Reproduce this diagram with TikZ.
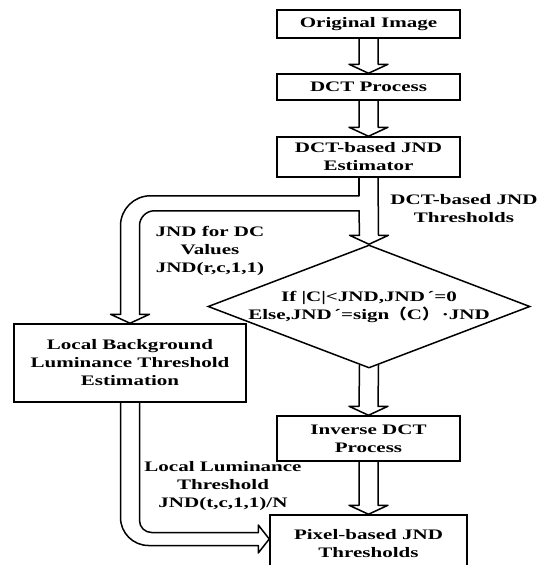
\documentclass[tikz,border=0pt]{standalone}
\usepackage{fontspec}
\setmainfont{Liberation Serif}[FakeStretch=1.45]
\newfontfamily\cjkfont{Noto Sans CJK SC}[FakeStretch=1.2]
\usetikzlibrary{shapes.geometric,calc}
\begin{document}
\begin{tikzpicture}[x=1pt,y=-1pt,
  box/.style={draw,line width=1.5pt,fill=white,inner sep=0pt,align=center,font=\bfseries\fontsize{14.5}{18}\selectfont},
  lbl/.style={inner sep=0pt,align=center,font=\bfseries\fontsize{14.5}{18}\selectfont},
  fat/.style={draw,line width=1.5pt,line join=round,line cap=round}]
\useasboundingbox (0,0) rectangle (536,565);
\clip (0,0) rectangle (536,565);
% boxes
\node[box,minimum width=183pt,minimum height=28pt] (orig) at (368.5,24) {Original Image};
\node[box,minimum width=183pt,minimum height=26pt] (dct) at (368.5,87) {DCT Process};
\node[box,minimum width=183pt,minimum height=40pt] (est) at (368.5,157) {DCT-based JND\\Estimator};
\node[draw,diamond,line width=1.5pt,inner sep=0pt,minimum width=322pt,minimum height=123pt] (dia) at (369,306.5) {};
\node[lbl] (diatext) at (369,307) {If |C|<JND,JND\,´=0\\Else,JND\,´=sign{\cjkfont （}C{\cjkfont ）}\,·JND};
\node[box,minimum width=232pt,minimum height=78pt] (loc) at (130,363) {Local Background\\Luminance Threshold\\Estimation};
\node[box,minimum width=183pt,minimum height=45pt] (inv) at (368.5,438.5) {Inverse DCT\\Process};
\node[box,minimum width=197pt,minimum height=57pt] (pix) at (368.5,543.5) {Pixel-based JND\\Thresholds};
% labels
\node[lbl] (l1) at (464,208.5) {DCT-based JND\\Thresholds};
\node[lbl] (l2) at (210,251) {JND for DC\\Values\\JND(r,c,1,1)};
\node[lbl] (l3) at (223,486) {Local Luminance\\Threshold\\JND(t,c,1,1)/N};
% simple fat arrows
\draw[fat] ($(orig.south)+(-9.5,0)$) -- ($(dct.north)+(-9.5,-9)$) -- ($(dct.north)+(-19.5,-9)$) -- (dct.north) -- ($(dct.north)+(19.5,-9)$) -- ($(dct.north)+(9.5,-9)$) -- ($(orig.south)+(9.5,0)$);
\draw[fat] ($(dct.south)+(-9.5,0)$) -- ($(est.north)+(-9.5,-9)$) -- ($(est.north)+(-19.5,-9)$) -- (est.north) -- ($(est.north)+(19.5,-9)$) -- ($(est.north)+(9.5,-9)$) -- ($(dct.south)+(9.5,0)$);
\draw[fat] ($(dia.south)+(-9.5,-3.6)$) -- ($(inv.north)+(-9.5,-9)$) -- ($(inv.north)+(-19.5,-9)$) -- (inv.north) -- ($(inv.north)+(19.5,-9)$) -- ($(inv.north)+(9.5,-9)$) -- ($(dia.south)+(9.5,-3.6)$);
\draw[fat] ($(inv.south)+(-9.5,0)$) -- ($(pix.north)+(-9.5,-9)$) -- ($(pix.north)+(-19.5,-9)$) -- (pix.north) -- ($(pix.north)+(19.5,-9)$) -- ($(pix.north)+(9.5,-9)$) -- ($(inv.south)+(9.5,0)$);
% branching arrow from estimator
\coordinate (bo) at ($(est.south)+(-9.5,18)$);
\coordinate (bi) at ($(est.south)+(-9.5,33)$);
\coordinate (lo) at ($(loc.north)+(-9.5,-9)$);
\coordinate (li) at ($(loc.north)+(9.5,-9)$);
\draw[fat] ($(est.south)+(9.5,0)$) -- ($(dia.north)+(9.5,-9)$) -- ($(dia.north)+(19.5,-9)$) -- (dia.north) -- ($(dia.north)+(-19.5,-9)$) -- ($(dia.north)+(-9.5,-9)$) -- (bi);
\draw[fat,rounded corners=15pt] (bi) -- (li |- bi) -- (li);
\draw[fat] (li) -- ($(loc.north)+(19.5,-9)$) -- (loc.north) -- ($(loc.north)+(-19.5,-9)$) -- (lo);
\draw[fat,rounded corners=30pt] (lo) -- (lo |- bo) -- (bo);
\draw[fat] (bo) -- ($(est.south)+(-9.5,0)$);
% arrow from local box to pixel box
\coordinate (pa) at ($(pix.west)+(0,-4.5)$);
\coordinate (pi) at ($(pa)+(-11,-6.5)$);
\coordinate (po) at ($(pa)+(-11,6.5)$);
\coordinate (si) at ($(loc.south)+(9.5,0)$);
\coordinate (so) at ($(loc.south)+(-9.5,0)$);
\draw[fat,rounded corners=12pt] (si) -- (si |- pi) -- (pi);
\draw[fat] (pi) -- ($(pa)+(-11,-14)$) -- (pa) -- ($(pa)+(-11,14)$) -- (po);
\draw[fat,rounded corners=28pt] (po) -- (so |- po) -- (so);
\end{tikzpicture}
\end{document}
